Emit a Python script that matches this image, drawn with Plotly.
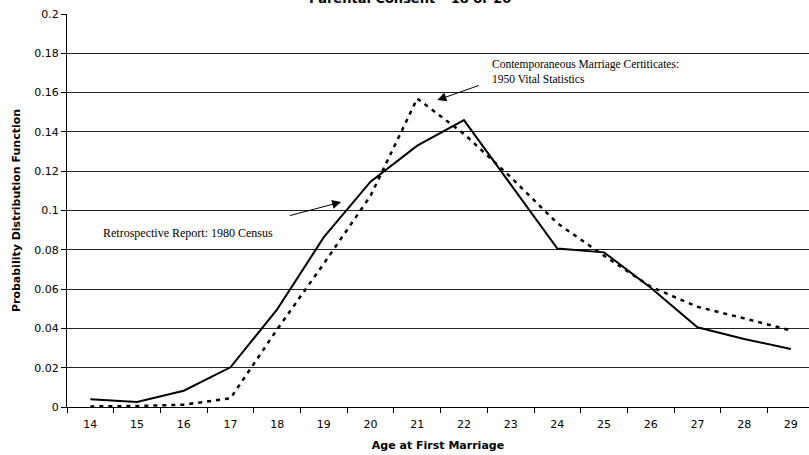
import plotly.graph_objects as go

ages = list(range(14, 30))
census_1980 = [0.004, 0.0025, 0.0083, 0.0202, 0.0497, 0.0864, 0.1147, 0.1330, 0.1460,
               0.1135, 0.0806, 0.0787, 0.0607, 0.0406, 0.0346, 0.0295]
vital_1950 = [0.0003, 0.0005, 0.0012, 0.0044, 0.0395, 0.0730, 0.1075, 0.1570, 0.1390,
              0.1170, 0.0935, 0.0770, 0.0612, 0.0510, 0.0451, 0.0390]
y_ticks = [0, 0.02, 0.04, 0.06, 0.08, 0.1, 0.12, 0.14, 0.16, 0.18, 0.2]
y_tick_labels = ["0", "0.02", "0.04", "0.06", "0.08", "0.1", "0.12", "0.14", "0.16", "0.18", "0.2"]

W, H = 809, 455
ml, mr, mt, mb = 67, 0, 14, 48
px_per_cat = 46.7
x_lo = ages[0] - 0.5
x_hi = x_lo + (W - ml - mr) / px_per_cat

fig = go.Figure()
fig.add_trace(go.Scatter(x=ages, y=vital_1950, mode="lines",
                         line=dict(color="black", width=2.5, dash="4px,5px"),
                         name="1950 Vital Statistics", showlegend=False))
fig.add_trace(go.Scatter(x=ages, y=census_1980, mode="lines",
                         line=dict(color="black", width=2),
                         name="1980 Census", showlegend=False))

serif = "Liberation Serif, Times New Roman, serif"
sans = "DejaVu Sans, Verdana, sans-serif"

fig.add_annotation(x=(410 - ml) / (W - ml - mr), y=1, xref="paper", yref="paper",
                   xanchor="center", yanchor="middle", yshift=mt + 2, showarrow=False,
                   text="<b>Parental Consent – 18 or 20</b>",
                   font=dict(family=sans, size=13, color="black"))
fig.add_annotation(x=22.55, y=0.1705, xref="x", yref="y", xanchor="left", yanchor="middle",
                   align="left", showarrow=False,
                   text="Contemporaneous Marriage Certiticates:<br>1950 Vital Statistics",
                   font=dict(family=serif, size=11.5, color="black"))
fig.add_annotation(x=21.43, y=0.1562, ax=22.35, ay=0.1639, xref="x", yref="y",
                   axref="x", ayref="y", text="", showarrow=True, arrowhead=2,
                   arrowsize=1.8, arrowwidth=1, arrowcolor="black")
fig.add_annotation(x=x_lo + (101 - ml) / px_per_cat, y=0.0885, xref="x", yref="y",
                   xanchor="left", yanchor="middle", showarrow=False,
                   text="Retrospective Report: 1980 Census",
                   font=dict(family=serif, size=12, color="black"))
fig.add_annotation(x=19.37, y=0.1043, ax=18.24, ay=0.0972, xref="x", yref="y",
                   axref="x", ayref="y", text="", showarrow=True, arrowhead=2,
                   arrowsize=1.8, arrowwidth=1, arrowcolor="black")

fig.update_layout(
    width=W, height=H,
    margin=dict(l=ml, r=mr, t=mt, b=mb, pad=0),
    paper_bgcolor="white", plot_bgcolor="white",
    font=dict(family=sans, size=11, color="black"),
    xaxis=dict(range=[x_lo, x_hi], tickmode="array", tickvals=ages,
               ticktext=[str(a) for a in ages], ticks="outside", ticklen=7,
               tickcolor="rgba(0,0,0,0)", showgrid=False, automargin=False,
               showline=True, linecolor="black", linewidth=1, zeroline=False,
               tickfont=dict(family=sans, size=11),
               minor=dict(tickmode="array", tickvals=[a - 0.5 for a in ages] + [ages[-1] + 0.5],
                          ticks="outside", ticklen=5, tickcolor="black", tickwidth=1, showgrid=False),
               title=dict(text="<b>Age at First Marriage</b>", standoff=11,
                          font=dict(family=sans, size=11))),
    yaxis=dict(range=[0, 0.2], tickmode="array", tickvals=y_ticks, ticktext=y_tick_labels,
               ticks="outside", ticklen=5, tickcolor="black", showgrid=True,
               gridcolor="#222222", gridwidth=1, showline=True, linecolor="black",
               linewidth=1, zeroline=False, tickfont=dict(family=sans, size=11),
               automargin=False,
               title=dict(text="<b>Probability Distribution Function</b>", standoff=11,
                          font=dict(family=sans, size=11))),
)

fig.write_html("out.html", config={"displayModeBar": False},
               post_script="document.body.style.margin='0';document.body.style.overflow='hidden';")
